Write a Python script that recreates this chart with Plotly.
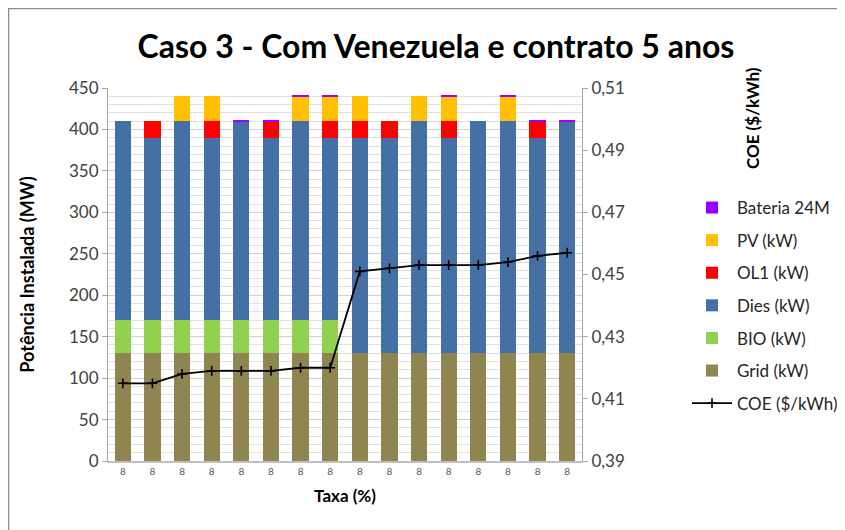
import plotly.graph_objects as go

categories = list(range(16))
tick_labels = ["8"] * 16

grid = [130] * 16
bio = [40, 40, 40, 40, 40, 40, 40, 40, 0, 0, 0, 0, 0, 0, 0, 0]
dies = [240, 220, 240, 220, 240, 220, 240, 220, 260, 260, 280, 260, 280, 280, 260, 280]
ol1 = [0, 20, 0, 20, 0, 20, 0, 20, 20, 20, 0, 20, 0, 0, 20, 0]
pv = [0, 0, 30, 30, 0, 0, 30, 30, 30, 0, 30, 30, 0, 30, 0, 0]
bateria = [0, 0, 0, 0, 2, 2, 2, 2, 0, 0, 0, 2, 0, 2, 2, 2]
coe = [0.415, 0.415, 0.418, 0.419, 0.419, 0.419, 0.420, 0.420,
       0.451, 0.452, 0.453, 0.453, 0.453, 0.454, 0.456, 0.457]

FONT = "Lato"
fig = go.Figure()

series = [
    ("Grid (kW)", grid, "#8f8550", 6),
    ("BIO (kW)", bio, "#92d050", 5),
    ("Dies (kW)", dies, "#4470a6", 4),
    ("OL1 (kW)", ol1, "#ff0000", 3),
    ("PV (kW)", pv, "#ffc000", 2),
    ("Bateria 24M", bateria, "#9b00ff", 1),
]
for name, vals, color, rank in series:
    fig.add_trace(go.Bar(
        x=categories, y=vals, name=name, marker_color=color,
        marker_line_width=0, legendrank=rank, legendgroup=name,
    ))

fig.add_trace(go.Scatter(
    x=categories, y=coe, name="COE ($/kWh)", yaxis="y2", mode="lines+markers",
    line=dict(color="black", width=1.8),
    marker=dict(symbol="cross-thin", size=7, line=dict(color="black", width=1.6)),
    legendrank=7, legendgroup="coe",
))

# page has an 8px body margin; work in page coordinates and convert
OFF = 8
W, H = 845 - OFF, 530 - OFF
pl, pr, pt, pb = 108 - OFF, 582 - OFF, 88 - OFF, 461 - OFF
pw, ph = pr - pl, pb - pt

def px(x):
    return (x - OFF - pl) / pw

def py(y):
    return (pb - (y - OFF)) / ph

fig.update_layout(
    width=W, height=H,
    margin=dict(l=pl, r=W - pr, t=pt, b=H - pb, autoexpand=False),
    barmode="stack", bargap=0.45,
    separators=",.",
    plot_bgcolor="white", paper_bgcolor="white",
    font=dict(family=FONT, color="#262626"),
    title=dict(text="<b>Caso 3 - Com Venezuela e contrato 5 anos</b>",
               x=(436 - OFF) / W, xanchor="center", xref="container",
               y=1 - (47 - OFF) / H, yanchor="middle",
               font=dict(size=32, family=FONT, color="black")),
    xaxis=dict(
        tickmode="array", tickvals=categories, ticktext=tick_labels,
        range=[-0.5, 15.5], showline=True, linecolor="#bfbfbf", linewidth=1.5,
        ticks="", tickfont=dict(size=10, color="#595959"),
        title=dict(text="<b>Taxa (%)</b>", font=dict(size=17, color="black"), standoff=14),
    ),
    yaxis=dict(
        range=[0, 450], dtick=50, showline=True, linecolor="#a6a6a6", linewidth=1,
        ticks="outside", ticklen=5, tickcolor="#a6a6a6",
        gridcolor="#d0d0d0", gridwidth=1,
        minor=dict(dtick=10, showgrid=True, gridcolor="#e0e0e0", gridwidth=1),
        tickfont=dict(size=17, color="#404040"), zeroline=False,
        title=dict(text="<b>Potência Instalada (MW)</b>", font=dict(size=18, color="black"), standoff=29),
    ),
    yaxis2=dict(
        overlaying="y", side="right", range=[0.39, 0.51], tick0=0.39, dtick=0.02, tickformat=".2f",
        showline=True, linecolor="#a6a6a6", linewidth=1, showgrid=False,
        ticks="outside", ticklen=5, tickcolor="#a6a6a6",
        tickfont=dict(size=17, color="#404040"), zeroline=False,
    ),
    legend=dict(
        x=px(687), xanchor="left", y=py(190), yanchor="top",
        font=dict(size=17, color="#262626"), tracegroupgap=7.5,
        itemwidth=40, bgcolor="rgba(0,0,0,0)",
    ),
    annotations=[dict(
        text="<b>COE ($/kWh)</b>", textangle=-90, xref="paper", yref="paper",
        x=px(752), y=py(118), showarrow=False, font=dict(size=17, color="black"),
        xanchor="center", yanchor="middle",
    )],
    shapes=[dict(
        type="rect", xref="paper", yref="paper",
        x0=px(OFF + 0.5), x1=px(870), y0=py(560), y1=py(OFF + 0.5),
        line=dict(color="#8c8c8c", width=1.5), layer="below",
    )],
)

fig.write_html("out.html")
